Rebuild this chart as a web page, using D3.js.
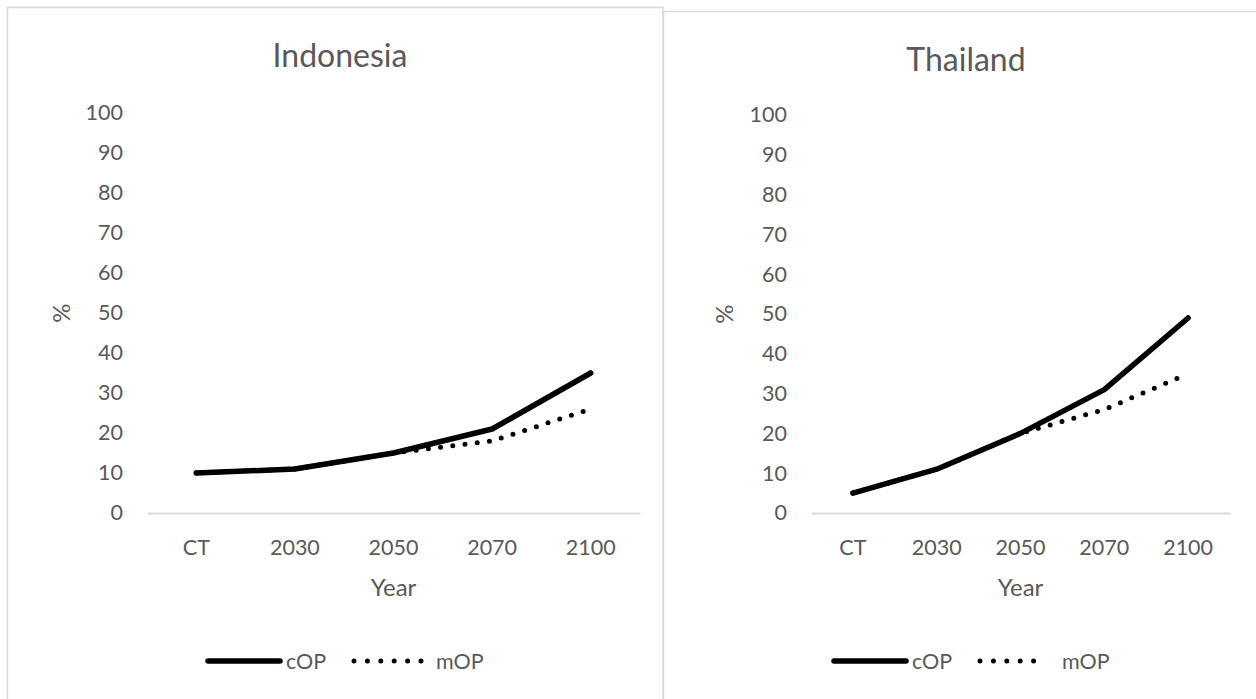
<!DOCTYPE html>
<html>
<head>
<meta charset="utf-8">
<script src="https://cdn.jsdelivr.net/npm/d3@7"></script>
<style>
  html, body { margin: 0; padding: 0; background: #ffffff; }
  svg { display: block; }
  text { font-family: Lato, "Open Sans", sans-serif; fill: #595959; }
</style>
</head>
<body>
<svg id="chart" width="1256" height="699"></svg>
<script>
// Categories shared by both panels
const years = ["CT", "2030", "2050", "2070", "2100"];
const yTicks = [0, 10, 20, 30, 40, 50, 60, 70, 80, 90, 100];
const seriesNames = ["cOP", "mOP"];

// Indonesia (%)
const indonesiaCOP = [10, 11, 15, 21, 35];
const indonesiaMOP = [10, 11, 15, 18, 26];

// Thailand (%)
const thailandCOP = [5, 11, 20, 31, 49];
const thailandMOP = [5, 11, 20, 26, 35];

const svg = d3.select("#chart");

function drawPanel(opt) {
  const g = svg.append("g");

  // chart area frame (top and sides)
  const b = opt.box;
  g.append("path")
    .attr("d", `M${b.x + 0.5},${b.y + b.h} V${b.y + 0.5} H${b.x + b.w}` + (opt.rightEdge ? ` V${b.y + b.h}` : ""))
    .attr("fill", "none").attr("stroke", "#d9d9d9").attr("stroke-width", 1.5);

  g.append("text")
    .attr("x", opt.titleX).attr("y", opt.titleY)
    .attr("text-anchor", "middle")
    .style("font-size", "32px")
    .text(opt.title);

  const x = d3.scaleBand().domain(years).range([opt.plot.left, opt.plot.right]);
  const y = d3.scaleLinear().domain([0, 100]).range([opt.plot.bottom, opt.plot.top]);

  // value axis: labels only
  const yAxis = g.append("g")
    .attr("transform", `translate(${opt.plot.left - 24},0)`)
    .call(d3.axisLeft(y).tickValues(yTicks).tickSize(0).tickPadding(0));
  yAxis.select(".domain").remove();
  yAxis.selectAll("text").style("font-size", "21.5px").attr("fill", "#595959");

  // category axis
  const xAxis = g.append("g")
    .attr("transform", `translate(0,${opt.plot.bottom})`)
    .call(d3.axisBottom(x).tickSize(0).tickPadding(27));
  xAxis.select(".domain").attr("stroke", "#d9d9d9").attr("stroke-width", 2);
  xAxis.selectAll("text").style("font-size", "21.5px").attr("fill", "#595959");

  // axis titles
  g.append("text")
    .attr("x", (opt.plot.left + opt.plot.right) / 2).attr("y", opt.plot.bottom + 83)
    .attr("text-anchor", "middle").style("font-size", "24px").text("Year");
  g.append("text")
    .attr("transform", `translate(${opt.pctX},${y(50)}) rotate(-90)`)
    .attr("text-anchor", "middle").attr("dy", "0.35em")
    .style("font-size", "24px").text("%");

  const line = d3.line()
    .x((d, i) => x(years[i]) + x.bandwidth() / 2)
    .y(d => y(d));

  // mOP: round dots
  g.append("path").datum(opt.mop)
    .attr("d", line).attr("fill", "none").attr("stroke", "#000")
    .attr("stroke-width", 5).attr("stroke-linecap", "round")
    .attr("stroke-dasharray", "0 12.3");

  // cOP: solid
  g.append("path").datum(opt.cop)
    .attr("d", line).attr("fill", "none").attr("stroke", "#000")
    .attr("stroke-width", 5.5).attr("stroke-linecap", "round")
    .attr("stroke-linejoin", "round");

  // legend
  const ly = opt.legend.y;
  const lx = opt.legend.x;
  g.append("line")
    .attr("x1", lx).attr("x2", lx + 72).attr("y1", ly).attr("y2", ly)
    .attr("stroke", "#000").attr("stroke-width", 5.5).attr("stroke-linecap", "round");
  g.append("text").attr("x", lx + 78).attr("y", ly).attr("dy", "0.36em")
    .style("font-size", "21.5px").text(seriesNames[0]);
  g.append("line")
    .attr("x1", lx + 146).attr("x2", lx + 213).attr("y1", ly).attr("y2", ly)
    .attr("stroke", "#000").attr("stroke-width", 5).attr("stroke-linecap", "round")
    .attr("stroke-dasharray", "0 13.4");
  g.append("text").attr("x", lx + 228).attr("y", ly).attr("dy", "0.36em")
    .style("font-size", "21.5px").text(seriesNames[1]);
}

drawPanel({
  title: "Indonesia",
  box: { x: 7, y: 7, w: 656, h: 720 },
  rightEdge: true,
  titleX: 340, titleY: 67,
  plot: { left: 147, right: 640, top: 113, bottom: 513 },
  pctX: 62,
  legend: { x: 208, y: 661 },
  cop: indonesiaCOP, mop: indonesiaMOP
});

drawPanel({
  title: "Thailand",
  box: { x: 663, y: 11, w: 600, h: 720 },
  rightEdge: false,
  titleX: 966, titleY: 71,
  plot: { left: 811, right: 1230, top: 115, bottom: 513 },
  pctX: 725,
  legend: { x: 834, y: 661 },
  cop: thailandCOP, mop: thailandMOP
});
</script>
</body>
</html>
